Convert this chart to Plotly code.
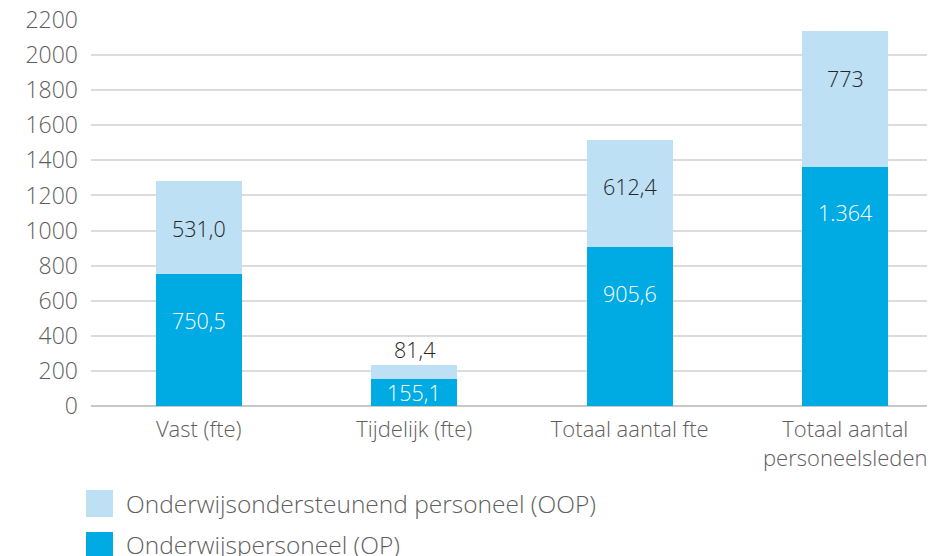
import plotly.graph_objects as go

categories = ["Vast (fte)", "Tijdelijk (fte)", "Totaal aantal fte", "Totaal aantal<br>personeelsleden"]
op_values = [750.5, 155.1, 905.6, 1364]
oop_values = [531.0, 81.4, 612.4, 773]
op_labels = ["750,5", "155,1", "905,6", "1.364"]
oop_labels = ["531,0", "81,4", "612,4", "773"]
y_ticks = [0, 200, 400, 600, 800, 1000, 1200, 1400, 1600, 1800, 2000, 2200]

series_names = ["Onderwijsondersteunend personeel (OOP)", "Onderwijspersoneel (OP)"]

C_OP = "#00AAE3"
C_OOP = "#BDE0F5"
FONT = "Open Sans"
GREY = "#5e5e5e"

OFF = 8  # page body margin
W, H = 935 - OFF, 556 - OFF
ML, MT, MB = 91 - OFF, 20 - OFF, 150
plot_h = H - MT - MB
YMAX = 2200
px_per_unit = plot_h / YMAX

fig = go.Figure()
fig.add_trace(go.Bar(x=list(range(len(categories))), y=op_values, marker_color=C_OP,
                     marker_line_width=0, width=0.4, name=series_names[1], hoverinfo="y"))
fig.add_trace(go.Bar(x=list(range(len(categories))), y=oop_values, marker_color=C_OOP,
                     marker_line_width=0, width=0.4, name=series_names[0], hoverinfo="y"))

LBL = dict(family=FONT, size=21.5, weight=300)
annotations = []
for i in range(len(categories)):
    seg_px = op_values[i] * px_per_unit
    if seg_px < 60:
        annotations.append(dict(x=i, y=op_values[i] / 2, text=op_labels[i], showarrow=False,
                                yanchor="middle", font=dict(LBL, color="white")))
    else:
        annotations.append(dict(x=i, y=op_values[i], text=op_labels[i], showarrow=False,
                                yanchor="middle", yshift=-46, font=dict(LBL, color="white")))
    top = op_values[i] + oop_values[i]
    seg_px = oop_values[i] * px_per_unit
    if seg_px < 30:
        annotations.append(dict(x=i, y=top, text=oop_labels[i], showarrow=False,
                                yanchor="bottom", yshift=-1, font=dict(LBL, color="#262626")))
    else:
        annotations.append(dict(x=i, y=top, text=oop_labels[i], showarrow=False,
                                yanchor="middle", yshift=-47, font=dict(LBL, color="#262626")))

band = 215.5
x_right = -0.5 + (W - ML) / band

def px_x(p):
    return (p - OFF - ML) / (W - ML)

def px_y(p):
    return (H - MB - (p - OFF)) / plot_h

shapes = []
legend_rows = [(series_names[0], C_OOP, 490, 503), (series_names[1], C_OP, 532, 544)]
for name, col, ytop, ytext in legend_rows:
    shapes.append(dict(type="rect", xref="paper", yref="paper",
                       x0=px_x(86), x1=px_x(113), y0=px_y(ytop + 27), y1=px_y(ytop),
                       fillcolor=col, line_width=0))
    annotations.append(dict(xref="paper", yref="paper", x=px_x(124), y=px_y(ytext),
                            xanchor="left", yanchor="middle", text=name, showarrow=False,
                            font=dict(family=FONT, size=24.5, weight=300, color=GREY)))

fig.update_layout(
    width=W, height=H,
    margin=dict(l=ML, r=0, t=MT, b=MB, autoexpand=False),
    barmode="stack",
    showlegend=False,
    plot_bgcolor="white", paper_bgcolor="white",
    font=dict(family=FONT, color=GREY),
    annotations=annotations,
    shapes=shapes,
    xaxis=dict(range=[-0.5, x_right], tickmode="array", tickvals=list(range(len(categories))),
               ticktext=categories, showgrid=False, zeroline=False, showline=False,
               tickfont=dict(family=FONT, size=22, weight=300, color=GREY), ticks="",
               ticklabelstandoff=8),
    yaxis=dict(range=[0, YMAX], tickmode="array", tickvals=y_ticks,
               ticktext=[str(v) for v in y_ticks], showgrid=True, gridcolor="#dcdcdc", gridwidth=1.5,
               zeroline=True, zerolinecolor="#c8c8c8", zerolinewidth=2, showline=False,
               tickfont=dict(family=FONT, size=23, weight=300, color=GREY), ticks="",
               ticklabelstandoff=12, ticklabeloverflow="allow"),
)

fig.write_html("out.html")
